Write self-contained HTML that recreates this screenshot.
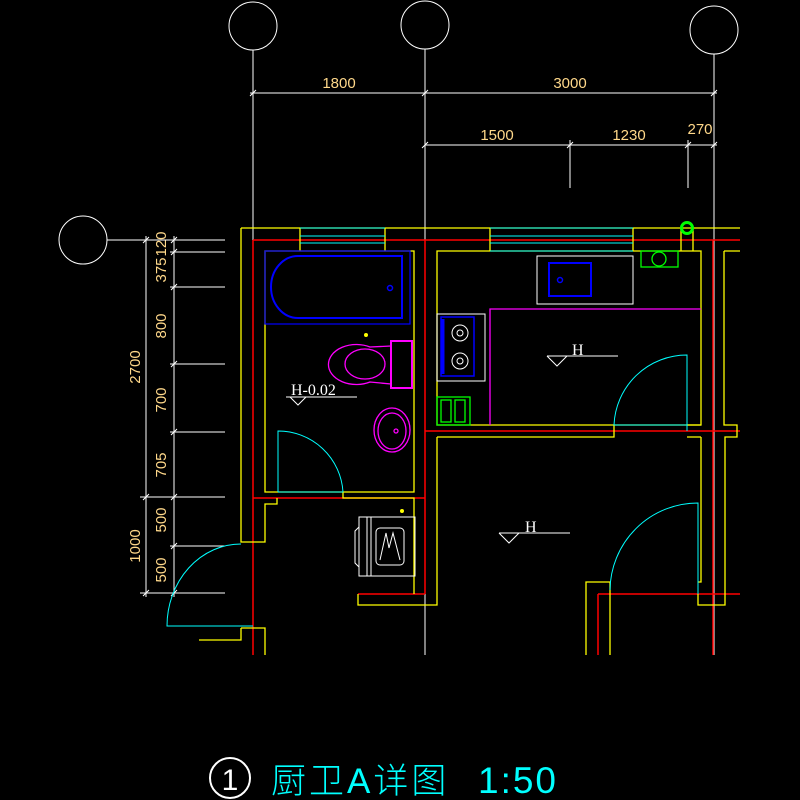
<!DOCTYPE html>
<html><head><meta charset="utf-8"><style>html,body{margin:0;padding:0;background:#000;width:800px;height:800px;overflow:hidden}svg{display:block}</style></head><body>
<svg width="800" height="800" viewBox="0 0 800 800" xmlns="http://www.w3.org/2000/svg" font-family="Liberation Sans, sans-serif">
<rect width="800" height="800" fill="#000"/>
<g fill="none" stroke="#fff" stroke-width="1">
<circle cx="253" cy="26" r="24"/><circle cx="425" cy="25" r="24"/><circle cx="714" cy="30" r="24"/>
<circle cx="83" cy="240" r="24"/>
<path d="M253 50V655M425 49V655M714 54V655"/>
<path d="M107 240H225"/>
<path d="M250 93H717M425 145H717M570 140V188M688 140V188"/>
<path d="M146 236V597M174 236V597"/>
<path d="M140 240H225M170 252H225M170 287H225M170 364H225M170 432H225M140 497H225M170 546H225M140 593H225"/>
<path d="M250 96L256 90M422 96L428 90M711 96L717 90M422 148L428 142M567 148L573 142M685 148L691 142M711 148L717 142"/>
<path d="M143 243L149 237M171 243L177 237M171 255L177 249M171 290L177 284M171 367L177 361M171 435L177 429M143 500L149 494M171 500L177 494M171 549L177 543M143 596L149 590M171 596L177 590"/>
</g>
<g fill="#ffd88a" font-size="15" text-anchor="middle">
<text x="339" y="88">1800</text><text x="570" y="88">3000</text>
<text x="497" y="140">1500</text><text x="629" y="140">1230</text><text x="700" y="134">270</text>
<g transform="rotate(-90)">
<text x="-244" y="166">120</text><text x="-270" y="166">375</text><text x="-326" y="166">800</text>
<text x="-400" y="166">700</text><text x="-465" y="166">705</text><text x="-520" y="166">500</text><text x="-570" y="166">500</text>
<text x="-367" y="140">2700</text><text x="-546" y="140">1000</text>
</g></g>
<g stroke="#f00" stroke-width="1.5" fill="none">
<path d="M253 240H740M253 240V655M425 240V594M253 498H425M358 594H425M425 431H740M713 240V655M598 594H740M598 594V655"/>
</g>
<g stroke="#ff0" stroke-width="1.3" fill="none">
<path d="M241 228H740M241 228V542H265V504H277V498"/>
<path d="M265 251H414V492H265Z"/>
<path d="M343 492V498H414V594"/>
<path d="M437 251H701V425H437Z"/>
<path d="M437 437V605H358V594"/>
<path d="M437 437H614V425"/>
<path d="M724 251H740M724 251V425H737V437H725V582H725V605H698V594M701 437V582H698"/>
<path d="M687 425H701M687 437H701"/>
<path d="M586 655V582H610V655"/>
<path d="M241 628H265V655M241 628V640H199"/>
<path d="M681 228V251M693 228V251"/>
<path d="M300 228V251M385 228V251M490 228V251M633 228V251"/>
</g>
<g stroke="#0ff" stroke-width="1" fill="none">
<path d="M300 228H385M300 236H385M300 243H385M300 251H385"/>
<path d="M490 228H633M490 236H633M490 243H633M490 251H633"/>
<path d="M278 492V431A65 65 0 0 1 343 492H278"/>
<path d="M253 626H167A74 82 0 0 1 241 544"/>
<path d="M687 431V355A73 73 0 0 0 614 425H687"/>
<path d="M698 594V503A88 88 0 0 0 610 590"/>
</g>
<g stroke="#00f" fill="none">
<rect x="265" y="251" width="145" height="73" stroke-width="1.2"/>
<path d="M298 256H402V318H298A27 31 0 0 1 298 256Z" stroke-width="2"/>
<circle cx="390" cy="288" r="2.5" stroke-width="1.5"/>
<rect x="549" y="263" width="42" height="33" stroke-width="2"/>
<circle cx="560" cy="280" r="2.5" stroke-width="1.5"/>
<rect x="441" y="317" width="33" height="59" stroke-width="1.5"/>
<path d="M443 319V374" stroke-width="3"/>
</g>
<g stroke="#f0f" fill="none" stroke-width="1.3">
<rect x="391" y="341" width="21" height="47" stroke-width="2"/>
<path d="M391 346L370 347A28 20 0 1 0 370 382L391 384"/>
<ellipse cx="365" cy="364" rx="20" ry="15"/>
<ellipse cx="392" cy="430" rx="18" ry="22"/><ellipse cx="392" cy="431" rx="14" ry="18"/>
<circle cx="396" cy="431" r="2"/>
<path d="M490 425V309H701"/>
</g>
<circle cx="366" cy="335" r="2" fill="#ff0"/>
<circle cx="402" cy="511" r="2" fill="#ff0"/>
<g stroke="#fff" fill="none" stroke-width="1">
<rect x="537" y="256" width="96" height="48"/>
<rect x="437" y="314" width="48" height="67"/>
<circle cx="460" cy="333" r="8"/><circle cx="460" cy="333" r="3"/>
<circle cx="460" cy="361" r="8"/><circle cx="460" cy="361" r="3"/>
<rect x="359" y="517" width="56" height="59"/>
<path d="M367 517V576M371 517V576M359 527L355 531V563L359 567"/>
<rect x="376" y="528" width="28" height="37" rx="4"/>
<path d="M380 560L386 533L389 548L393 533L400 560"/>
<path d="M286 397H357M290 397L298 405L306 397"/>
<path d="M547 356H618M547 356L557 366L567 356"/>
<path d="M499 533H570M499 533L509 543L519 533"/>
</g>
<g stroke="#0f0" fill="none" stroke-width="1.3">
<rect x="641" y="251" width="37" height="16"/>
<circle cx="659" cy="259" r="7"/>
<circle cx="687" cy="228" r="5.5" stroke-width="3"/>
<rect x="437" y="397" width="33" height="28"/>
<rect x="441" y="400" width="10" height="22"/><rect x="455" y="400" width="10" height="22"/>
</g>
<g fill="#fff" font-family="Liberation Serif, serif" font-size="16">
<text x="291" y="395">H-0.02</text>
<text x="572" y="355">H</text>
<text x="525" y="532">H</text>
</g>
<circle cx="230" cy="778" r="20" fill="none" stroke="#fff" stroke-width="2"/>
<text x="230" y="790" fill="#fff" font-size="30" text-anchor="middle" font-weight="300">1</text>
<text x="271" y="793" fill="#0ff" font-size="35" letter-spacing="3" font-family="Liberation Sans, Noto Sans CJK SC, sans-serif" font-weight="300">厨卫A详图</text>
<text x="478" y="793" fill="#0ff" font-size="37" letter-spacing="2" font-weight="300">1:50</text>
</svg>
</body></html>
